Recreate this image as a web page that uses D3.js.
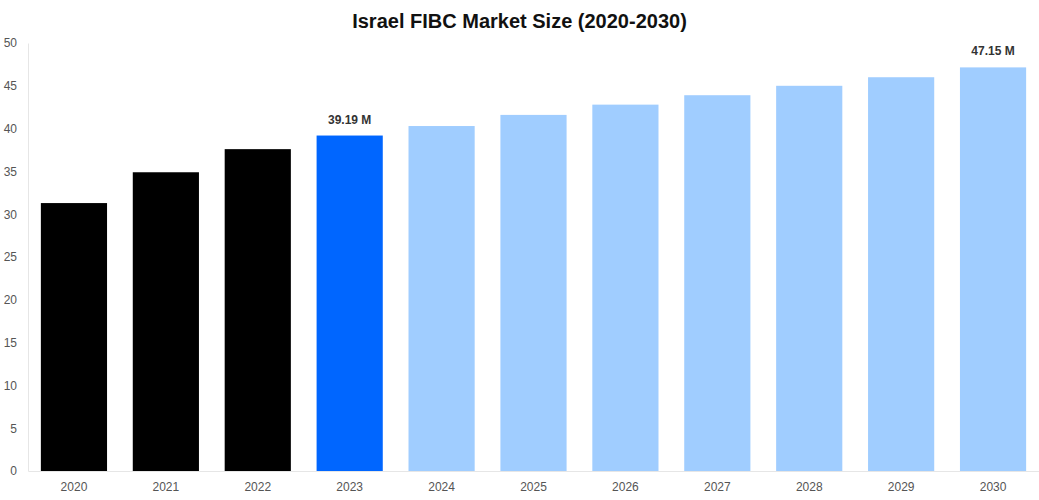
<!DOCTYPE html>
<html><head><meta charset="utf-8">
<script src="https://cdn.jsdelivr.net/npm/d3@7"></script>
<style>body{margin:0;background:#fff;font-family:"Liberation Sans",Arial,sans-serif}</style>
</head><body><svg id="c" width="1039" height="500"></svg>
<script>
const years = ['2020','2021','2022','2023','2024','2025','2026','2027','2028','2029','2030'];
const values = [31.3, 34.9, 37.6, 39.19, 40.3, 41.6, 42.8, 43.9, 45.0, 46.0, 47.15];
const colors = ['#000000','#000000','#000000','#0066ff','#a0cdff','#a0cdff','#a0cdff','#a0cdff','#a0cdff','#a0cdff','#a0cdff'];
const labelled = {'2023':'39.19 M','2030':'47.15 M'};
const yTicks = [0,5,10,15,20,25,30,35,40,45,50];

const svg = d3.select('#c');
const m = {l:28, r:0, t:43, b:29};
const W = 1039, H = 500;
const x = d3.scaleBand().domain(years).range([m.l, W - m.r]).paddingInner(0.28).paddingOuter(0.14);
const y = d3.scaleLinear().domain([0,50]).range([H - m.b, m.t]);

svg.append('text').attr('x', W/2).attr('y', 28).attr('text-anchor','middle')
  .attr('font-size', 20).attr('font-weight','bold').attr('fill','#111')
  .text('Israel FIBC Market Size (2020-2030)');

const ya = svg.append('g').attr('transform', `translate(${m.l},0)`)
  .call(d3.axisLeft(y).tickValues(yTicks).tickSize(0).tickPadding(11));
ya.select('.domain').attr('stroke','#e6e6e6');
ya.selectAll('text').attr('fill','#555').attr('font-size',12).attr('font-family','"Liberation Sans",Arial,sans-serif');

const xa = svg.append('g').attr('transform', `translate(0,${H - m.b})`)
  .call(d3.axisBottom(x).tickSize(0).tickPadding(11));
xa.select('.domain').attr('stroke','#e6e6e6');
xa.selectAll('text').attr('fill','#555').attr('font-size',12).attr('font-family','"Liberation Sans",Arial,sans-serif');

svg.append('g').selectAll('rect').data(years).join('rect')
  .attr('x', d => x(d)).attr('width', x.bandwidth())
  .attr('y', (d,i) => y(values[i])).attr('height', (d,i) => y(0) - y(values[i]))
  .attr('fill', (d,i) => colors[i]);

svg.append('g').selectAll('text').data(years.filter(d => labelled[d])).join('text')
  .attr('x', d => x(d) + x.bandwidth()/2)
  .attr('y', d => y(values[years.indexOf(d)]) - 12)
  .attr('text-anchor','middle').attr('font-size',12).attr('font-weight','bold').attr('fill','#333')
  .text(d => labelled[d]);
</script></body></html>
